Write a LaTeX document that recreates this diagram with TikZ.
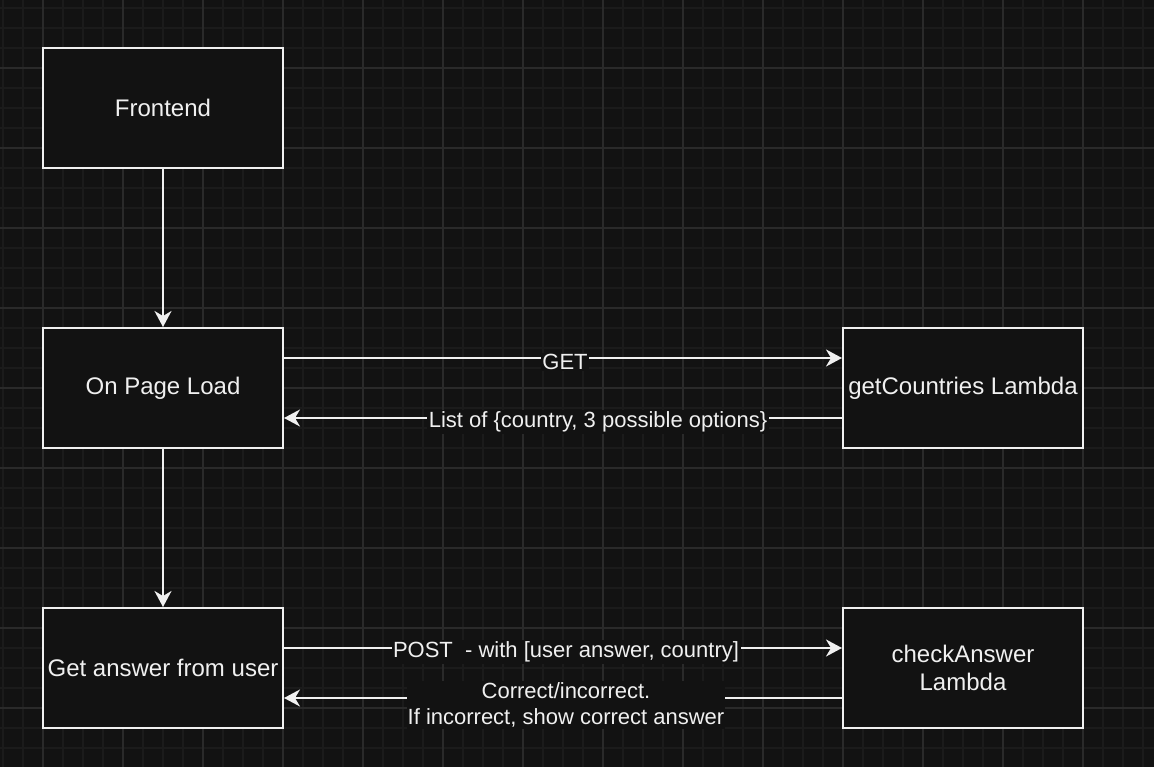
\documentclass[tikz,border=0pt]{standalone}
\usepackage{fontspec}
\setmainfont{Liberation Sans}
\usetikzlibrary{arrows.meta}
\definecolor{bgc}{HTML}{121212}
\definecolor{minorc}{HTML}{1B1B1B}
\definecolor{majorc}{HTML}{2A2A2A}
\definecolor{fgc}{HTML}{F0F0F0}
\tikzset{
  box/.style={draw=fgc, fill=bgc, line width=2pt, minimum width=240pt, minimum height=120pt, inner sep=0pt, text=fgc, font=\fontsize{24pt}{28pt}\selectfont, align=center},
  conn/.style={draw=fgc, line width=2pt, -{Stealth[length=16pt,width=17pt,inset=5pt]}},
  lbl/.style={fill=bgc, text=fgc, inner sep=1.5pt, font=\fontsize{22pt}{26pt}\selectfont, align=center}
}
\begin{document}
\begin{tikzpicture}[x=1pt,y=-1pt]
\useasboundingbox (0,0) rectangle (1154,767);
\fill[bgc] (0,0) rectangle (1154,767);
% minor grid
\foreach \x in {3,23,...,1154} \draw[minorc, line width=1.5pt] (\x,0) -- (\x,767);
\foreach \y in {8,28,...,767} \draw[minorc, line width=1.5pt] (0,\y) -- (1154,\y);
% major grid
\foreach \x in {43,123,...,1154} \draw[majorc, line width=1.2pt] (\x,0) -- (\x,767);
\foreach \y in {68,148,...,767} \draw[majorc, line width=1.2pt] (0,\y) -- (1154,\y);

\node[box] (fe) at (163,108) {Frontend};
\node[box] (opl) at (163,388) {On Page Load};
\node[box] (gau) at (163,668) {Get answer from user};
\node[box] (gcl) at (963,388) {getCountries Lambda};
\node[box] (cal) at (963,668) {checkAnswer\\Lambda};

\draw[conn] (fe) -- (opl);
\draw[conn] (opl) -- (gau);
\draw[conn] ([yshift=30pt]opl.east) -- ([yshift=30pt]gcl.west);
\draw[conn] ([yshift=-30pt]gcl.west) -- ([yshift=-30pt]opl.east);
\draw[conn] ([yshift=20pt]gau.east) -- ([yshift=20pt]cal.west);
\draw[conn] ([yshift=-30pt]cal.west) -- ([yshift=-30pt]gau.east);

\node[lbl] (l1) at (565,362) {GET};
\node[lbl] (l2) at (598,422) {List of \{country, 3 possible options\}};
\node[lbl] (l3) at (566,652) {POST~ - with [user answer, country]};
\node[lbl, inner xsep=0.5pt] (l4) at (566,705) {Correct/incorrect.\\If incorrect, show correct answer};
\end{tikzpicture}
\end{document}
